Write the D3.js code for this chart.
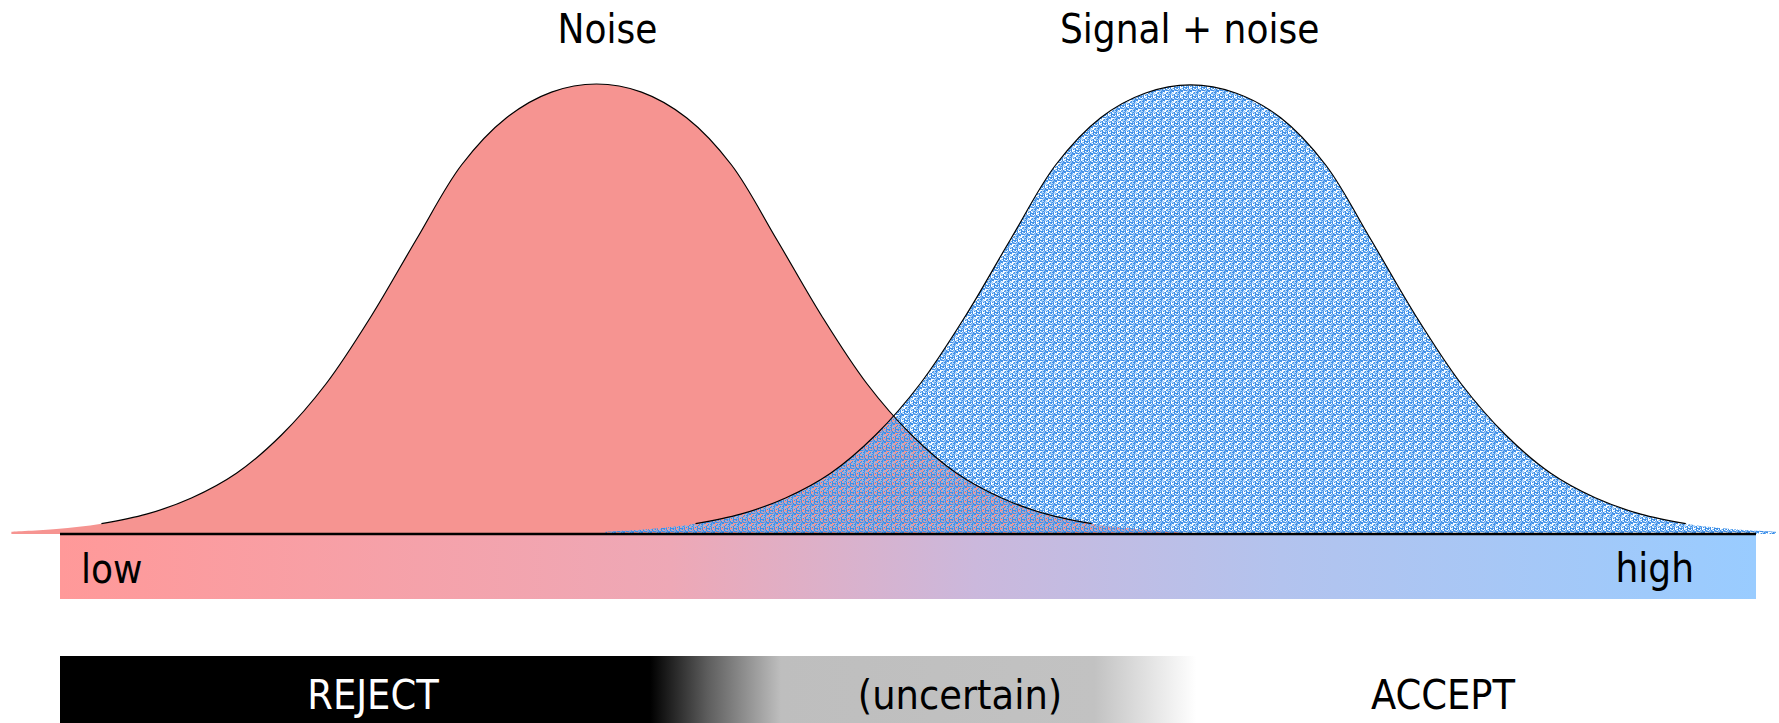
<!DOCTYPE html>
<html><head><meta charset="utf-8">
<script src="https://cdn.jsdelivr.net/npm/d3@7"></script>
<style>
html,body{margin:0;padding:0;background:#fff;overflow:hidden}
text{font-family:'DejaVu Sans Condensed','DejaVu Sans',sans-serif;font-stretch:condensed}
</style>
</head><body>
<svg id="chart" width="1779" height="723"></svg>
<script>
// ---- data (density relative to peak, x in units of sigma) ----
const noiseX  = [-3.25,-3.0,-2.75,-2.5,-2.25,-2.0,-1.75,-1.5,-1.25,-1.0,-0.75,-0.5,-0.25,0,
                 0.25,0.5,0.75,1.0,1.25,1.5,1.75,2.0,2.25,2.5,2.75,3.0,3.25];
const noiseY  = [0.005,0.011,0.023,0.044,0.080,0.135,0.220,0.335,0.485,0.655,0.820,0.925,0.982,1.0,
                 0.982,0.925,0.820,0.655,0.485,0.335,0.220,0.135,0.080,0.044,0.023,0.011,0.005];
const signalX = [0.05,0.3,0.55,0.8,1.05,1.3,1.55,1.8,2.05,2.3,2.55,2.8,3.05,3.3,
                 3.55,3.8,4.05,4.3,4.55,4.8,5.05,5.3,5.55,5.8,6.05,6.3,6.55];
const signalY = [0.005,0.011,0.023,0.044,0.080,0.135,0.220,0.335,0.485,0.655,0.820,0.925,0.980,0.998,
                 0.980,0.925,0.820,0.655,0.485,0.335,0.220,0.135,0.080,0.044,0.023,0.011,0.005];
const seriesLabels   = ["Noise", "Signal + noise"];
const axisLabels     = ["low", "high"];
const decisionLabels = ["REJECT", "(uncertain)", "ACCEPT"];
const xDomain = [-2.98, 6.44];

// ---- layout ----
const svg = d3.select("#chart");
const leftX = 60, rightX = 1756, baseY = 534, peakY = 84;
const x = d3.scaleLinear().domain(xDomain).range([leftX, rightX]);
const y = d3.scaleLinear().domain([0, 1]).range([baseY, peakY]);

const defs = svg.append("defs");

// colour bar gradient
const g1 = defs.append("linearGradient").attr("id","scaleGrad").attr("x1","0").attr("x2","1").attr("y1","0").attr("y2","0");
[[0,"#FF9999"],[0.36,"#EEA8B6"],[0.54,"#CBB8DC"],[0.72,"#B3C3EE"],[1,"#99CCFF"]]
  .forEach(([o,c]) => g1.append("stop").attr("offset",o).attr("stop-color",c));

// decision bar gradient
const g2 = defs.append("linearGradient").attr("id","decGrad").attr("x1","0").attr("x2","1").attr("y1","0").attr("y2","0");
[[0,"#000"],[0.348,"#000"],[0.382,"#5E5E5E"],[0.425,"#BEBEBE"],[0.61,"#C2C2C2"],[0.67,"#FFFFFF"],[1,"#FFFFFF"]]
  .forEach(([o,c]) => g2.append("stop").attr("offset",o).attr("stop-color",c));

// speckled blue texture
const T = 9;
const pat = defs.append("pattern").attr("id","speckle").attr("patternUnits","userSpaceOnUse")
  .attr("width",T).attr("height",T);
const shades = [null, "rgba(130,190,248,0.65)", "#6AAEF2", "#3D8EE6"];
for (let i = 0; i < T; i++) for (let j = 0; j < T; j++) {
  let col;
  if (i === 0 || j === 0) col = ((i*7 + j*3) % 4 === 0) ? "rgba(90,160,240,0.7)" : "#4390E8";
  else {
    const h = (i*73 + j*151 + i*j*37 + 11) % 100;
    col = h < 30 ? null : h < 58 ? shades[1] : h < 82 ? shades[2] : shades[3];
  }
  if (col) pat.append("rect").attr("x",i).attr("y",j).attr("width",1).attr("height",1)
    .attr("fill",col).attr("shape-rendering","crispEdges");
}

// colour bar
svg.append("rect").attr("x",leftX).attr("y",baseY+1).attr("width",rightX-leftX).attr("height",64)
  .attr("fill","url(#scaleGrad)");

// decision bar
svg.append("rect").attr("x",leftX).attr("y",656).attr("width",rightX-leftX).attr("height",67)
  .attr("fill","url(#decGrad)");

const noise  = noiseX.map((v,i) => ({x:v, y:noiseY[i]}));
const signal = signalX.map((v,i) => ({x:v, y:signalY[i]}));

const area = d3.area().x(d => x(d.x)).y0(y(0)).y1(d => y(d.y)).curve(d3.curveCatmullRom.alpha(0.5));
const line = d3.line().x(d => x(d.x)).y(d => y(d.y)).curve(d3.curveCatmullRom.alpha(0.5));

svg.append("path").datum(noise).attr("d", area).attr("fill","#F69491");
svg.append("path").datum(signal).attr("d", area).attr("fill","url(#speckle)");

svg.append("path").datum(noise.filter(d => d.y >= 0.02)).attr("d", line)
  .attr("fill","none").attr("stroke","#000").attr("stroke-width",1.2);
svg.append("path").datum(signal.filter(d => d.y >= 0.02)).attr("d", line)
  .attr("fill","none").attr("stroke","#000").attr("stroke-width",1.2);

// baseline
svg.append("line").attr("x1",leftX).attr("x2",rightX).attr("y1",baseY).attr("y2",baseY)
  .attr("stroke","#000").attr("stroke-width",2.5);

// titles
const peakX = [noiseX[noiseY.indexOf(d3.max(noiseY))], signalX[signalY.indexOf(d3.max(signalY))]];
svg.selectAll("text.title").data(seriesLabels).join("text").attr("class","title")
  .attr("x",(d,i) => x(peakX[i]) + (i===0 ? 11 : -1)).attr("y",43)
  .attr("text-anchor","middle").attr("font-size",40).attr("fill","#000").text(d => d);

// low / high
svg.append("text").attr("x",81).attr("y",583).attr("font-size",40).text(axisLabels[0]);
svg.append("text").attr("x",1694).attr("y",582).attr("text-anchor","end").attr("font-size",40).text(axisLabels[1]);

// decision labels
const decX = [373, 960, 1443];
const decCol = ["#fff", "#000", "#000"];
svg.selectAll("text.dec").data(decisionLabels).join("text").attr("class","dec")
  .attr("x",(d,i) => decX[i]).attr("y",709).attr("text-anchor","middle")
  .attr("font-size",41).attr("fill",(d,i) => decCol[i]).text(d => d);
</script>
</body></html>
